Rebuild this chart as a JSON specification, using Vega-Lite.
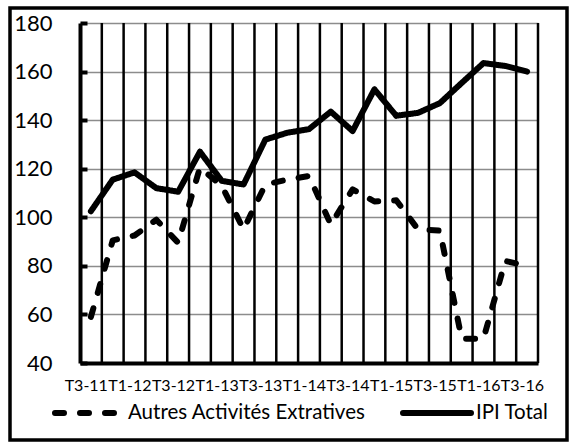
{
  "$schema": "https://vega.github.io/schema/vega-lite/v6.json",
  "width": 557,
  "height": 432,
  "autosize": {"type": "none"},
  "padding": {"left": 10, "top": 8, "right": 4, "bottom": 3},
  "background": "white",
  "config": {
    "view": {"stroke": "black", "strokeWidth": 3.5},
    "font": "Lato"
  },
  "data": {
    "values": [
      {"q": "T3-11", "series": "Autres Activités Extratives", "v": 59},
      {"q": "T4-11", "series": "Autres Activités Extratives", "v": 90.5},
      {"q": "T1-12", "series": "Autres Activités Extratives", "v": 92.5},
      {"q": "T2-12", "series": "Autres Activités Extratives", "v": 99},
      {"q": "T3-12", "series": "Autres Activités Extratives", "v": 89.5},
      {"q": "T4-12", "series": "Autres Activités Extratives", "v": 120.5},
      {"q": "T1-13", "series": "Autres Activités Extratives", "v": 113},
      {"q": "T2-13", "series": "Autres Activités Extratives", "v": 95},
      {"q": "T3-13", "series": "Autres Activités Extratives", "v": 113.5},
      {"q": "T4-13", "series": "Autres Activités Extratives", "v": 115.5},
      {"q": "T1-14", "series": "Autres Activités Extratives", "v": 117},
      {"q": "T2-14", "series": "Autres Activités Extratives", "v": 97},
      {"q": "T3-14", "series": "Autres Activités Extratives", "v": 111.5},
      {"q": "T4-14", "series": "Autres Activités Extratives", "v": 106.5},
      {"q": "T1-15", "series": "Autres Activités Extratives", "v": 107},
      {"q": "T2-15", "series": "Autres Activités Extratives", "v": 95},
      {"q": "T3-15", "series": "Autres Activités Extratives", "v": 94.5},
      {"q": "T4-15", "series": "Autres Activités Extratives", "v": 50},
      {"q": "T1-16", "series": "Autres Activités Extratives", "v": 50},
      {"q": "T2-16", "series": "Autres Activités Extratives", "v": 82},
      {"q": "T3-16", "series": "Autres Activités Extratives", "v": 80},
      {"q": "T3-11", "series": "IPI Total", "v": 102.5},
      {"q": "T4-11", "series": "IPI Total", "v": 115.5},
      {"q": "T1-12", "series": "IPI Total", "v": 118.5},
      {"q": "T2-12", "series": "IPI Total", "v": 112},
      {"q": "T3-12", "series": "IPI Total", "v": 110.5},
      {"q": "T4-12", "series": "IPI Total", "v": 127},
      {"q": "T1-13", "series": "IPI Total", "v": 115},
      {"q": "T2-13", "series": "IPI Total", "v": 113.5},
      {"q": "T3-13", "series": "IPI Total", "v": 132},
      {"q": "T4-13", "series": "IPI Total", "v": 134.8},
      {"q": "T1-14", "series": "IPI Total", "v": 136.3},
      {"q": "T2-14", "series": "IPI Total", "v": 143.5},
      {"q": "T3-14", "series": "IPI Total", "v": 135.5},
      {"q": "T4-14", "series": "IPI Total", "v": 152.7},
      {"q": "T1-15", "series": "IPI Total", "v": 141.8},
      {"q": "T2-15", "series": "IPI Total", "v": 143},
      {"q": "T3-15", "series": "IPI Total", "v": 147},
      {"q": "T4-15", "series": "IPI Total", "v": 155.3},
      {"q": "T1-16", "series": "IPI Total", "v": 163.5},
      {"q": "T2-16", "series": "IPI Total", "v": 162.3},
      {"q": "T3-16", "series": "IPI Total", "v": 160}
    ]
  },
  "layer": [
    {
      "transform": [{"filter": "datum.series === 'IPI Total'"}],
      "mark": {"type": "rule", "color": "black", "strokeWidth": 2.5},
      "encoding": {
        "x": {"field": "q", "type": "nominal", "sort": null, "bandPosition": 1},
        "y": {"datum": 40, "type": "quantitative"},
        "y2": {"datum": 180}
      }
    },
    {
      "mark": {"type": "line", "color": "black", "strokeWidth": 6, "strokeCap": "round", "strokeJoin": "round"},
      "encoding": {
        "x": {
          "field": "q",
          "type": "nominal",
          "sort": null,
          "scale": {"type": "band", "range": [70, 528], "paddingInner": 0, "paddingOuter": 0},
          "axis": {
            "title": null,
            "offset": -77,
            "grid": false,
            "ticks": false,
            "domain": true,
            "domainColor": "black",
            "domainWidth": 4,
            "labelAngle": 0,
            "labelExpr": "test(regexp('^T[13]-'), datum.label) ? datum.label : ''",
            "labelOverlap": false,
            "labelBound": false,
            "labelFlush": false,
            "labelOffset": 17,
            "labelPadding": 22,
            "labelFont": "Lato",
            "labelFontSize": 16,
            "labelColor": "black"
          }
        },
        "y": {
          "field": "v",
          "type": "quantitative",
          "scale": {"domain": [40, 180], "range": [355, 15], "nice": false, "zero": false},
          "axis": {
            "title": null,
            "offset": -70,
            "values": [40, 60, 80, 100, 120, 140, 160, 180],
            "grid": true,
            "gridColor": "#8c8c8c",
            "gridWidth": 1.5,
            "gridOpacity": 1,
            "domain": true,
            "domainColor": "black",
            "domainWidth": 4,
            "ticks": true,
            "tickColor": "black",
            "tickWidth": 4,
            "tickSize": -7,
            "labelPadding": 35,
            "labelFont": "Lato",
            "labelFontSize": 22,
            "labelColor": "black"
          }
        },
        "strokeDash": {
          "field": "series",
          "type": "nominal",
          "scale": {"domain": ["Autres Activités Extratives", "IPI Total"], "range": [[9, 16], [1, 0]]},
          "legend": {
            "title": null,
            "orient": "none",
            "legendX": 42,
            "legendY": 368,
            "direction": "horizontal",
            "symbolType": "stroke",
            "symbolSize": 4624,
            "symbolStrokeWidth": 6,
            "symbolStrokeColor": "black",
            "columnPadding": 25,
            "labelOffset": 2,
            "labelFont": "Lato",
            "labelFontSize": 20.5,
            "labelColor": "black",
            "labelLimit": 400,
            "padding": 0,
            "encode": {"symbols": {"update": {"strokeCap": {"value": "round"}}}}
          }
        }
      }
    }
  ]
}
